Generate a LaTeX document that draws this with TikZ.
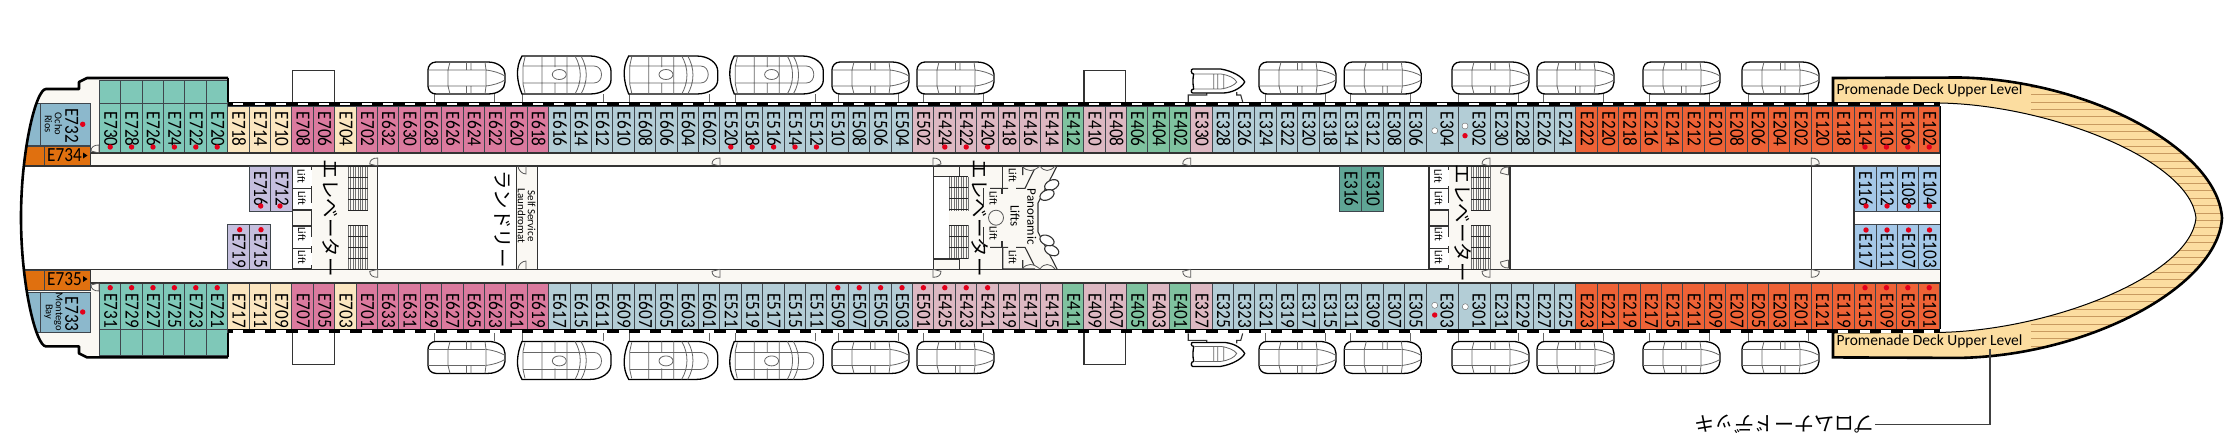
\documentclass[tikz,border=0pt]{standalone}
\usepackage{fontspec}
\setmainfont{Carlito}
\newfontfamily\jpfont{Noto Sans CJK JP}
\newfontfamily\cabfont[FakeStretch=0.86]{Carlito}
\definecolor{cteal}{HTML}{7FC8B8}
\definecolor{ccream}{HTML}{FBE6C0}
\definecolor{cpink}{HTML}{DB7A9E}
\definecolor{cgrey}{HTML}{B3CDD6}
\definecolor{cmauve}{HTML}{DDB8C2}
\definecolor{cgreen}{HTML}{7FC29F}
\definecolor{cred}{HTML}{EE6236}
\definecolor{cdark}{HTML}{5FA595}
\definecolor{clilac}{HTML}{C5BFDE}
\definecolor{cblue}{HTML}{A5C8E8}
\definecolor{csteel}{HTML}{8CB8CC}
\definecolor{corange}{HTML}{E0700F}
\definecolor{offw}{HTML}{FAF8F3}
\definecolor{deck}{HTML}{FCDDA0}
\definecolor{stripe}{HTML}{C89A60}
\definecolor{dotred}{HTML}{E3001B}
\tikzset{
 cabcell/.style={draw=black!80!cyan,line width=0.9pt},
 cablab/.style={rotate=-90,anchor=west,inner sep=0pt,font=\cabfont\fontsize{20}{20}\selectfont},
 smalllab/.style={rotate=-90,inner sep=0pt,align=center,font=\fontsize{11}{10}\selectfont},
 jplab/.style={rotate=-90,inner sep=0pt,font=\jpfont\fontsize{19.5}{20}\selectfont},
 wallline/.style={draw=black!80,line width=1.1pt},
 thinline/.style={draw=black!65,line width=0.8pt},
 boatout/.style={draw=black,line width=1.3pt,fill=white},
 boatin/.style={draw=black!60,line width=0.8pt},
 reddot/.style={fill=dotred},
 whitedot/.style={fill=white,draw=black!60,line width=0.4pt},
}
\newcommand\cabT[4]{%
 \path[cabcell,fill=#4] (#1,106) rectangle ++(#2,47);
 \node[cablab] (#3) at ({#1+#2/2+0.7},111.7) {#3};}
\newcommand\cabB[4]{%
 \path[cabcell,fill=#4] (#1,283) rectangle ++(#2,46.5);
 \node[cablab] (#3) at ({#1+#2/2+0.7},293) {#3};}
\newcommand\cabTw[4]{%
 \path[cabcell,fill=#4] (#1,106) rectangle ++(#2,47);
 \node[cablab] (#3) at ({#1+21},111.7) {#3};}
\newcommand\cabBw[4]{%
 \path[cabcell,fill=#4] (#1,283) rectangle ++(#2,46.5);
 \node[cablab] (#3) at ({#1+21},293) {#3};}
\newcommand\rowT[3]{\foreach \l [count=\k from #1] in {#3}{\pgfmathsetmacro\xx{99.3+21.4*\k}\cabT{\xx}{21.4}{\l}{#2}}}
\newcommand\rowB[3]{\foreach \l [count=\k from #1] in {#3}{\pgfmathsetmacro\xx{99.3+21.4*\k}\cabB{\xx}{21.4}{\l}{#2}}}
\newcommand\inner[6]{% x y w h label color
 \path[cabcell,fill=#6] (#1,#2) rectangle ++(#3,#4);
 \node[cablab] (#5) at ({#1+#3/2+0.7},{#2+5}) {#5};}
\newcommand\innerdown[6]{% label starts lower (dot above)
 \path[cabcell,fill=#6] (#1,#2) rectangle ++(#3,#4);
 \node[cablab] (#5) at ({#1+#3/2+0.7},{#2+9}) {#5};}
\newcommand\dotat[2]{\fill[reddot] (#1,#2) circle (2.7);}
\newcommand\wdotat[2]{\path[whitedot] (#1,#2) circle (3);}
\newcommand\stdboat[3]{\begin{scope}[shift={(#1,#2)},yscale=#3]
 \draw[boatin] (6,32)--(6,40) (66,32)--(66,40);
 \path[boatout] (8,0)--(60,0) .. controls (70,0) and (77,6) .. (77,12)--(77,20) .. controls (77,27) and (70,32) .. (60,32)--(8,32) .. controls (3,32) and (0,28) .. (0,24)--(0,8) .. controls (0,4) and (3,0) .. (8,0)--cycle;
 \draw[boatin] (22,0)--(20,8)--(20,24)--(22,32) (0,8)--(57,8) (0,24)--(57,24) (38.5,0)--(38.5,8) (43,0)--(43,8) (38.5,24)--(38.5,32) (43,24)--(43,32) (57,0)--(58,8)--(58,24)--(57,32) (58,8) .. controls (66,9) and (72,11) .. (77,14) (58,24) .. controls (66,23) and (72,21) .. (77,18);
\end{scope}}
\newcommand\tenderboat[3]{\begin{scope}[shift={(#1,#2)},yscale=#3]
 \draw[boatin] (6.7,38)--(6.7,46) (87,38)--(87,46);
 \path[boatout] (6,0)--(74,0) .. controls (86,0) and (95,7) .. (95,15)--(95,24) .. controls (95,32) and (86,38) .. (74,38)--(6,38) .. controls (1,26) and (-1,12) .. (6,0)--cycle;
 \draw[boatin] (9,1)--(7,10)--(7,28)--(9,37) (26,0)--(26,38) (39,0)--(39,11) (39,27)--(39,38) (51,0)--(51,38) (7,10)--(67,10) (7,27)--(67,27) (59,0) .. controls (66,12) and (66,26) .. (59,38) (65,0) .. controls (72,12) and (72,26) .. (65,38) (67,10)--(78,10) .. controls (88,10) and (88,27) .. (78,27)--(67,27);
 \path[boatin,fill=white] (43.3,18.5) ellipse (7 and 5);
\end{scope}}
\newcommand\raftboat[3]{\begin{scope}[shift={(#1,#2)},yscale=#3]
 \draw[wallline] (-2.5,33)--(-2.5,26)--(16,26)--(16,23) (46,23)--(46,26)--(50,26)--(52,33);
 \path[boatout] (2,0)--(30,0) .. controls (42,2) and (52,8) .. (54,13) .. controls (50,20) and (40,24) .. (32,24)--(2,24) .. controls (0,24) and (0,20) .. (3,20) .. controls (2,14) and (2,10) .. (3,5) .. controls (0,5) and (0,0) .. (2,0)--cycle;
 \draw[boatin] (4,5)--(30,5) .. controls (38,6) and (44,9) .. (46,13) .. controls (44,16) and (38,19) .. (30,20)--(4,20) (23,5)--(23,20) (27,5)--(27,20) (33,5)--(33,20);
\end{scope}}
\newcommand\hatchstair[3]{% x y-top height
 \fill[offw] (#1,#2) rectangle ++(19.4,#3);
 \foreach \v in {0,2.4,...,19.4}{\draw[black!55,line width=0.6pt] ({#1+\v},#2)--({#1+\v},{#2+#3});}
 \foreach \v in {0,11,...,44}{\pgfmathparse{\v<=#3?1:0}\ifdim\pgfmathresult pt>0.5pt\draw[black!85,line width=0.9pt] (#1,{#2+\v})--({#1+19.4},{#2+\v});\fi}}
\newcommand\doorR[2]{\draw[thinline] (#1,#2)--(#1,{#2-8}) .. controls ({#1+5},{#2-8}) and ({#1+8},{#2-6}) .. ({#1+8},{#2-2})--(#1,#2);}
\newcommand\doorL[2]{\draw[thinline] (#1,#2)--(#1,{#2-8}) .. controls ({#1-5},{#2-8}) and ({#1-8},{#2-6}) .. ({#1-8},{#2-2})--(#1,#2);}
\newcommand\doorRb[2]{\draw[thinline] (#1,#2)--(#1,{#2+8}) .. controls ({#1+5},{#2+8}) and ({#1+8},{#2+6}) .. ({#1+8},{#2+2})--(#1,#2);}
\newcommand\doorLb[2]{\draw[thinline] (#1,#2)--(#1,{#2+8}) .. controls ({#1-5},{#2+8}) and ({#1-8},{#2+6}) .. ({#1-8},{#2+2})--(#1,#2);}
\newcommand\liftlab[3]{\node[rotate=-90,inner sep=0pt,font=\fontsize{11}{11}\selectfont] (#3) at (#1,#2) {Lift};}
\newcommand\liftbank[2]{%
 \fill[white] (#1,166.5) rectangle ++(19.5,102.5);
 \fill[offw] (#1,210) rectangle ++(19.5,16);
 \draw[wallline] (#1,166)--(#1,269);
 \foreach \v in {166,188.3,210,226,248.3,269}{\draw[wallline] (#1,\v)--++(19.5,0);}
 \draw[wallline] ({#1+19.5},166)--++(0,4) ({#1+19.5},186)--++(0,17) ({#1+19.5},210)--++(0,27) ({#1+19.5},246)--++(0,7) ({#1+19.5},265)--++(0,4);
 \liftlab{{#1+9}}{176}{#2a}\liftlab{{#1+9.5}}{198}{#2b}\liftlab{{#1+9.5}}{234}{#2c}\liftlab{{#1+9.5}}{257}{#2d}}
\def\sternpath{(228,78)--(87,78)--(79,82)--(79,89)--(46,89) .. controls (36,89) and (21,150) .. (21,217.7) .. controls (21,285) and (36,346.4) .. (46,346.4)--(79,346.4)--(79,353.4)--(87,357.4)--(228,357.4)}
\def\bowout{(1833,78)--(1960,77.5) .. controls (2090,80) and (2218,150) .. (2222,218) .. controls (2218,286) and (2090,355.4) .. (1960,357.9)--(1833,357.4)}
\def\bowin{(1833,333)--(1940,332.4) .. controls (2050,330.4) and (2190,276) .. (2196,218) .. controls (2190,160) and (2050,105) .. (1940,103)--(1833,102.5)}
\begin{document}
\begin{tikzpicture}[x=1pt,y=-1pt]
\useasboundingbox (0,0) rectangle (2232,440);
\fill[white] (0,0) rectangle (2232,440);
% lifeboats
\foreach \bx in {428,832,917,1259,1344.3,1452,1537,1643,1742}{\stdboat{\bx}{62}{1}\stdboat{\bx}{373.4}{-1}}
\foreach \bx in {516,622.7,728.3}{\tenderboat{\bx}{56}{1}\tenderboat{\bx}{379.4}{-1}}
\raftboat{1190.7}{69}{1}\raftboat{1190.7}{366.4}{-1}
\foreach \bx in {292.7,1084}{\draw[wallline,fill=white] (\bx,70.7) rectangle ++(41.5,32);\draw[wallline,fill=white] (\bx,332.7) rectangle ++(41.5,32);}
% corridors and lobbies
\fill[offw] (91,153) rectangle (1940,166);
\fill[offw] (91,269) rectangle (1940,283);
\fill[offw] (292,166) rectangle (377.7,269);
\fill[offw] (516.7,166) rectangle (537.7,269);
\fill[offw] (934,166)--(1057,166)--(1038,203)--(1038,232)--(1057,269)--(934,269)--cycle;
\fill[white] (934,176.7) rectangle (948.5,259);
\fill[offw] (1429,166) rectangle (1510,269);
% stern hull
\begin{scope}
 \clip \sternpath --cycle;
 \fill[offw] (0,78) rectangle (99.3,153);
 \fill[offw] (0,283) rectangle (99.3,358);
 \fill[white] (0,89) rectangle (40,103);
 \fill[white] (0,333) rectangle (40,347);
 \path[cabcell,fill=csteel] (0,103.3) rectangle (40,145.5);
 \path[cabcell,fill=csteel] (40,103.3) rectangle (90.7,145.5);
 \path[cabcell,fill=corange] (0,146) rectangle (44,165.5);
 \path[cabcell,fill=corange] (44,146) rectangle (90.7,165.5);
 \path[cabcell,fill=corange] (0,270) rectangle (44,290.7);
 \path[cabcell,fill=corange] (44,270) rectangle (90.7,290.7);
 \path[cabcell,fill=csteel] (0,292.3) rectangle (40,332.3);
 \path[cabcell,fill=csteel] (40,292.3) rectangle (90.7,332.3);
\end{scope}
\fill[white] (24,166.5) rectangle (90.7,269);
\node[cablab] (E732) at (71.7,108.3) {E732};
\node[cablab] (E733) at (71.7,296.7) {E733};
\node[smalllab,font=\fontsize{10.5}{10}\selectfont] (ocho) at (53.5,124) {Ocho\\Rios};
\node[smalllab,font=\fontsize{10.5}{10}\selectfont] (montego) at (53.5,311.7) {Montego\\Bay};
\dotat{82.7}{124.3}\dotat{82.7}{312}
\node[inner sep=0pt,font=\cabfont\fontsize{20}{20}\selectfont] (E734) at (64.5,155.3) {E734};
\node[inner sep=0pt,font=\cabfont\fontsize{20}{20}\selectfont] (E735) at (64.5,279) {E735};
\fill (83,152.5)--(83,158.5)--(87.5,155.5)--cycle;
\fill (83,276)--(83,282)--(87.5,279)--cycle;
% teal stacks
\foreach \k in {0,...,5}{\pgfmathsetmacro\xx{99.3+21.4*\k}
 \path[cabcell,fill=cteal] (\xx,80) rectangle ++(21.4,23);
 \path[cabcell,fill=cteal] (\xx,103) rectangle ++(21.4,50);
 \path[cabcell,fill=cteal] (\xx,283) rectangle ++(21.4,46.5);
 \path[cabcell,fill=cteal] (\xx,329.5) rectangle ++(21.4,26);}
\foreach \l [count=\k from 0] in {E730,E728,E726,E724,E722,E720}{\pgfmathsetmacro\xx{99.3+21.4*\k+11.4}\node[cablab] (\l) at (\xx,111.7) {\l};}
\rowT{6}{ccream}{E718,E714,E710}
\rowT{9}{cpink}{E708,E706}
\rowT{11}{ccream}{E704}
\rowT{12}{cpink}{E702,E632,E630,E628,E626,E624,E622,E620,E618}
\rowT{21}{cgrey}{E616,E614,E612,E610,E608,E606,E604,E602,E520,E518,E516,E514,E512,E510,E508,E506,E504}
\rowT{38}{cmauve}{E502,E424,E422,E420,E418,E416,E414}
\rowT{45}{cgreen}{E412}
\rowT{46}{cmauve}{E410,E408}
\rowT{48}{cgreen}{E406,E404,E402}
\rowT{51}{cmauve}{E330}
\rowT{52}{cgrey}{E328,E326,E324,E322,E320,E318,E314,E312,E308,E306}
\cabTw{1426}{32}{E304}{cgrey}
\cabTw{1458}{32.5}{E302}{cgrey}
\rowT{65}{cgrey}{E230,E228,E226,E224}
\rowT{69}{cred}{E222,E220,E218,E216,E214,E212,E210,E208,E206,E204,E202,E120,E118,E114,E110,E106,E102}
\foreach \l [count=\k from 0] in {E731,E729,E727,E725,E723,E721}{\pgfmathsetmacro\xx{99.3+21.4*\k+11.4}\node[cablab] (\l) at (\xx,293) {\l};}
\rowB{6}{ccream}{E717,E711,E709}
\rowB{9}{cpink}{E707,E705}
\rowB{11}{ccream}{E703}
\rowB{12}{cpink}{E701,E633,E631,E629,E627,E625,E623,E621,E619}
\rowB{21}{cgrey}{E617,E615,E611,E609,E607,E605,E603,E601,E521,E519,E517,E515,E511,E509,E507,E505,E503}
\rowB{38}{cmauve}{E501,E425,E423,E421,E419,E417,E415}
\rowB{45}{cgreen}{E411}
\rowB{46}{cmauve}{E409,E407}
\rowB{48}{cgreen}{E405}
\rowB{49}{cmauve}{E403}
\rowB{50}{cgreen}{E401}
\rowB{51}{cmauve}{E327}
\rowB{52}{cgrey}{E325,E323,E321,E319,E317,E315,E311,E309,E307,E305}
\cabBw{1426}{32}{E303}{cgrey}
\cabBw{1458}{32.5}{E301}{cgrey}
\rowB{65}{cgrey}{E231,E229,E227,E225}
\rowB{69}{cred}{E223,E221,E219,E217,E215,E211,E209,E207,E205,E203,E201,E121,E119,E115,E109,E105,E101}
% hull walls and windows
\fill[black] (228,102) rectangle (1940,106);
\fill[black] (228,329.4) rectangle (1940,333.4);
% interior walls
\draw[wallline] (24,166)--(1940,166) (24,269.3)--(1940,269.3);
\draw[wallline] (91,153)--(1940,153) (91,283)--(1940,283);
\draw[wallline] (90.7,153)--(90.7,166) (90.7,269.3)--(90.7,283);
\draw[black,line width=2.6pt,line join=round] \sternpath;
\draw[black,line width=2.6pt] (228,78)--(228,102) (228,357.4)--(228,333);
\doorL{99}{153}\doorLb{99}{283}
% inner cabins
\inner{249.3}{166.5}{21.4}{44.8}{E716}{clilac}
\inner{270.7}{166.5}{21.4}{44.8}{E712}{clilac}
\innerdown{227.7}{224}{21.6}{45.3}{E719}{clilac}
\innerdown{249.3}{224}{21.4}{45.3}{E715}{clilac}
\inner{1339.3}{166.7}{22.4}{45}{E316}{cdark}
\inner{1361.7}{166.7}{21.6}{45}{E310}{cdark}
\inner{1854}{166.5}{22}{44.5}{E116}{cblue}
\inner{1876}{166.5}{21.4}{44.5}{E112}{cblue}
\inner{1897.4}{166.5}{21.4}{44.5}{E108}{cblue}
\inner{1918.8}{166.5}{21.2}{44.5}{E104}{cblue}
\innerdown{1854}{224.3}{22}{45}{E117}{cblue}
\innerdown{1876}{224.3}{21.4}{45}{E111}{cblue}
\innerdown{1897.4}{224.3}{21.4}{45}{E107}{cblue}
\innerdown{1918.8}{224.3}{21.2}{45}{E103}{cblue}
% lobby one
\liftbank{292.3}{la}
\hatchstair{348.3}{166.7}{44}\hatchstair{348.3}{225}{44}
\draw[wallline] (377.7,166)--(377.7,269);
\doorL{377.7}{166}\doorLb{377.7}{269.3}
\node[jplab] (elev1) at (331,218) {エレベーター};
% laundry
\draw[wallline] (516.7,166)--(516.7,269) (537.7,166)--(537.7,269);
\draw[thinline] (518,166) .. controls (518,170) and (522,174) .. (526,174)--(526,166);
\draw[thinline] (518,269) .. controls (518,265) and (522,261) .. (526,261)--(526,269);
\node[jplab] (laundry) at (502.5,219) {ランドリー};
\node[smalllab] (selfserv) at (526.7,216) {Self Service\\Laundromat};
\doorL{720}{166}\doorLb{720}{269.3}
\doorR{933}{166}\doorRb{933}{269.3}
% lobby two
\draw[wallline] (933.3,166)--(933.3,269) (933.3,176.7)--(959.3,176.7) (933.3,259)--(959.3,259) (959.3,166)--(959.3,176.7) (959.3,259)--(959.3,269);
\hatchstair{949}{176.7}{34}
\hatchstair{949}{225}{33.5}
\node[jplab] (elev2) at (979.5,218) {エレベーター};
% panoramic lifts
\draw[wallline] (1057,166)--(1038,203)--(1038,232)--(1057,269);
\begin{scope}[wallline]
 \draw (1002.7,188.3)--(1002.7,166)--(1035,166);
 \draw (1022.7,166)--(1022.7,175) (1034,170)--(1025,188.3)--(1016,188.3) (990,188.3)--(1008,188.3);
 \draw (983.5,188.3)--(983.5,206) (1002,188.3)--(1002,194);
 \draw (1002.7,269)--(1002.7,247.3) (1002.7,269)--(1035,269) (1022.7,269)--(1022.7,260) (1034,265)--(1025,247.3)--(1016,247.3) (990,247.3)--(1008,247.3);
 \draw (983.5,247.3)--(983.5,227) (1002,247.3)--(1002,241);
\end{scope}
\draw[thinline] (996,217.7) circle (7.5);
\foreach \cy/\cx/\ang in {185/1051.7/25,195/1047/25,250.4/1051.7/-25,240.4/1047/-25}{\draw[wallline,fill=white,rotate around={\ang:(\cx,\cy)}] (\cx,\cy) ellipse (7.5 and 4.8);}
\draw[thinline] (1022,166) .. controls (1027,172) and (1033,172) .. (1040,166) .. controls (1044,172) and (1050,172) .. (1055,166);
\draw[thinline] (1022,269) .. controls (1027,263) and (1033,263) .. (1040,269) .. controls (1044,263) and (1050,263) .. (1055,269);
\liftlab{1012.7}{175}{lb1}\liftlab{993.3}{198}{lb2}\liftlab{993.3}{233}{lb3}\liftlab{1012.7}{257}{lb4}
\node[smalllab,font=\fontsize{13}{13}\selectfont] (panor) at (1031.7,216.7) {Panoramic};
\node[smalllab,font=\fontsize{13}{13}\selectfont] (liftsw) at (1015,216) {Lifts};
\doorL{1190.7}{166}\doorLb{1190.7}{269.3}
% lobby three
\liftbank{1429}{lc}
\hatchstair{1471}{166.7}{44}\hatchstair{1471}{225}{44}
\draw[wallline] (1510,166)--(1510,269);
\doorL{1490}{166}\doorLb{1490}{269.3}
\doorL{1508.5}{175}\doorLb{1508.5}{260}
\node[jplab] (elev3) at (1463,223) {エレベーター};
\draw[wallline] (1811.3,166)--(1811.3,269) (1854,166)--(1854,269);
\doorR{1811.3}{166}\doorRb{1811.3}{269.3}
% bow deck
\fill[deck] \bowout -- \bowin --cycle;
\begin{scope}
 \clip \bowout -- \bowin --cycle;
 \foreach \v in {87.3,94.7,...,350}{\draw[stripe,line width=1.1pt] (2031,\v)--(2230,\v);}
\end{scope}
\draw[black,line width=1pt] \bowin;
\draw[black,line width=2.6pt,line join=miter] (1833,102)-- \bowout --(1833,333);
\draw[black,line width=1pt] (1940,106)--(1940,329.4);
\fill[black] (1833,102) rectangle (1940,106);
\fill[black] (1833,329.4) rectangle (1940,333.4);
% windows
\foreach \k in {6,...,61,65,66,...,85}{\pgfmathsetmacro\xx{99.3+21.4*\k+5.7}
 \fill[white] (\xx,102.8) rectangle ++(10,2.6);
 \fill[white] (\xx,330) rectangle ++(10,2.6);}
\foreach \xx in {1437,1469}{\fill[white] (\xx,102.8) rectangle ++(10,2.6);\fill[white] (\xx,330) rectangle ++(10,2.6);}
\node[inner sep=0pt,font=\fontsize{15.5}{15.5}\selectfont] (prom1) at (1929.5,90) {Promenade Deck Upper Level};
\node[inner sep=0pt,font=\fontsize{15.5}{15.5}\selectfont] (prom2) at (1929.5,341) {Promenade Deck Upper Level};
% dots
\foreach \k in {0,...,5,29,30,...,33,39,40,41,82,83,84,85}{\pgfmathsetmacro\xx{99.3+21.4*\k+10.9}\dotat{\xx}{147}}
\foreach \k in {0,...,5,34,35,...,41,82,83,84,85}{\pgfmathsetmacro\xx{99.3+21.4*\k+10.9}\dotat{\xx}{287.7}}
\dotat{260.7}{206}\dotat{280}{206}\dotat{239.7}{229.7}\dotat{261}{229.7}
\foreach \xx in {1866,1887,1908.5,1929.5}{\dotat{\xx}{206}\dotat{\xx}{230}}
\wdotat{1434.7}{130.7}\wdotat{1465}{126}\dotat{1465}{135.7}
\wdotat{1434.7}{305.3}\dotat{1434.7}{315}\wdotat{1465.3}{306.7}
% Japanese label and leader
\node[rotate=180,anchor=west,inner sep=0pt,font=\jpfont\fontsize{20}{20}\selectfont] (promjp) at (1875,424.5) {プロムナードデッキ};
\coordinate (leadtop) at (1990,349);
\draw[black!75,line width=1.1pt] (leadtop) |- (promjp.west);
\end{tikzpicture}
\end{document}
